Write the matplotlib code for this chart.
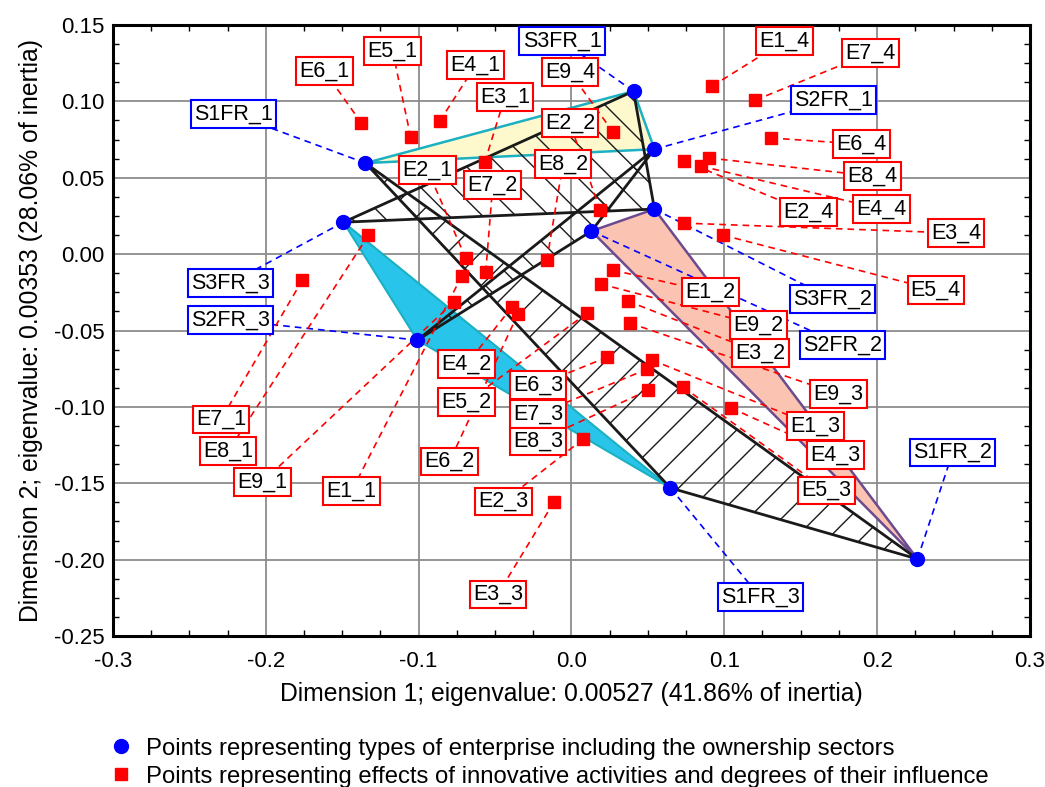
import matplotlib
matplotlib.use('Agg')
import matplotlib.pyplot as plt
from matplotlib.patches import Polygon
from matplotlib.lines import Line2D
from matplotlib.ticker import MultipleLocator

plt.rcParams['font.family'] = ['Liberation Sans', 'DejaVu Sans']
plt.rcParams['hatch.linewidth'] = 1.0

### Data: types of enterprise (blue points) ###
sectorNames = ['S1FR_1', 'S2FR_1', 'S3FR_1',
               'S1FR_2', 'S2FR_2', 'S3FR_2',
               'S1FR_3', 'S2FR_3', 'S3FR_3']
sectorX = [-0.1348, 0.0543, 0.0406, 0.2264, 0.0131, 0.0543, 0.0648, -0.1008, -0.1492]
sectorY = [0.0596, 0.0687, 0.1067, -0.1996, 0.0151, 0.0295, -0.1531, -0.0563, 0.0209]

### Data: effects of innovative activities (red points) ###
effectNames = ['E1_1', 'E2_1', 'E3_1', 'E4_1', 'E5_1', 'E6_1', 'E7_1', 'E8_1', 'E9_1',
               'E1_2', 'E2_2', 'E3_2', 'E4_2', 'E5_2', 'E6_2', 'E7_2', 'E8_2', 'E9_2',
               'E1_3', 'E2_3', 'E3_3', 'E4_3', 'E5_3', 'E6_3', 'E7_3', 'E8_3', 'E9_3',
               'E1_4', 'E2_4', 'E3_4', 'E4_4', 'E5_4', 'E6_4', 'E7_4', 'E8_4', 'E9_4']
effectX = [-0.0718, -0.0692, -0.0567, -0.0862, -0.1052, -0.1374, -0.1761, -0.1328, -0.0770,
           0.0272, 0.0187, 0.0370, -0.0390, 0.0102, -0.0351, -0.0561, -0.0161, 0.0193,
           0.0528, 0.0075, -0.0115, 0.1046, 0.0731, 0.0233, 0.0495, 0.0502, 0.0384,
           0.0921, 0.0738, 0.0738, 0.0849, 0.0993, 0.1308, 0.1203, 0.0902, 0.0272]
effectY = [-0.0144, -0.0026, 0.0602, 0.0871, 0.0766, 0.0858, -0.0170, 0.0124, -0.0314,
           -0.0105, 0.0288, -0.0308, -0.0347, -0.0386, -0.0393, -0.0118, -0.0039, -0.0196,
           -0.0694, -0.1212, -0.1624, -0.1008, -0.0871, -0.0675, -0.0753, -0.0891, -0.0452,
           0.1100, 0.0609, 0.0203, 0.0576, 0.0124, 0.0760, 0.1008, 0.0629, 0.0799]

### Layout: where the label boxes sit (data coordinates) ###
sectorLabelPos = {
    'S1FR_1': (-0.2213, 0.0917), 'S3FR_1': (-0.0062, 0.1395), 'S2FR_1': (0.1715, 0.1008),
    'S3FR_2': (0.1708, -0.0295), 'S2FR_2': (0.1774, -0.0596), 'S1FR_2': (0.2495, -0.1297),
    'S1FR_3': (0.1236, -0.2246), 'S3FR_3': (-0.2233, -0.0190), 'S2FR_3': (-0.2233, -0.0432),
}
effectLabelPos = {
    'E6_1': (-0.1616, 0.1198), 'E5_1': (-0.1170, 0.1329), 'E4_1': (-0.0626, 0.1238),
    'E3_1': (-0.0436, 0.1028), 'E2_1': (-0.0941, 0.0550), 'E7_1': (-0.2292, -0.1081),
    'E8_1': (-0.2246, -0.1290), 'E9_1': (-0.2023, -0.1493), 'E1_1': (-0.1439, -0.1552),
    'E9_4': (-0.0010, 0.1192), 'E2_2': (-0.0010, 0.0858), 'E8_2': (-0.0056, 0.0589),
    'E7_2': (-0.0515, 0.0452), 'E1_4': (0.1393, 0.1395), 'E7_4': (0.1957, 0.1316),
    'E6_4': (0.1898, 0.0720), 'E8_4': (0.1970, 0.0511), 'E4_4': (0.2030, 0.0295),
    'E2_4': (0.1551, 0.0275), 'E3_4': (0.2515, 0.0138), 'E5_4': (0.2384, -0.0236),
    'E1_2': (0.0908, -0.0249), 'E9_2': (0.1223, -0.0465), 'E3_2': (0.1236, -0.0648),
    'E9_3': (0.1748, -0.0917), 'E1_3': (0.1597, -0.1126), 'E4_3': (0.1728, -0.1316),
    'E5_3': (0.1669, -0.1546), 'E6_3': (-0.0220, -0.0858), 'E7_3': (-0.0220, -0.1048),
    'E8_3': (-0.0220, -0.1225), 'E4_2': (-0.0685, -0.0720), 'E5_2': (-0.0685, -0.0969),
    'E6_2': (-0.0797, -0.1356), 'E2_3': (-0.0443, -0.1618), 'E3_3': (-0.0482, -0.2227),
}

fig = plt.figure(figsize=(10.45, 7.87), dpi=100)
ax = fig.add_axes([0.1081, 0.1919, 0.8775, 0.7763])

def pts(names):
    return [(sectorX[sectorNames.index(n)], sectorY[sectorNames.index(n)]) for n in names]

### Triangles joining the points ###
# coloured ones first (by frequency), hatched ones on top (by sector)
ax.add_patch(Polygon(pts(['S3FR_3', 'S2FR_3', 'S1FR_3']), closed=True,
                     facecolor='#29c4e9', edgecolor='#1bb0c2', lw=1.5, zorder=2))
ax.add_patch(Polygon(pts(['S2FR_2', 'S3FR_2', 'S1FR_2']), closed=True,
                     facecolor='#fbc4b2', edgecolor='#6b4a8e', lw=1.8, zorder=2))
ax.add_patch(Polygon(pts(['S1FR_1', 'S3FR_1', 'S2FR_1']), closed=True,
                     facecolor='#fdf9cc', edgecolor='#1bb0c2', lw=1.8, zorder=2))
for grp, h in [(['S1FR_1', 'S1FR_2', 'S1FR_3'], '/'),
               (['S2FR_1', 'S2FR_2', 'S2FR_3'], '\\'),
               (['S3FR_1', 'S3FR_2', 'S3FR_3'], '\\')]:
    ax.add_patch(Polygon(pts(grp), closed=True, fill=False, hatch=h,
                         edgecolor='#1a1a1a', lw=2.0, zorder=3))

### Leader lines, points and label boxes ###
dash = (0, (4, 3))
for n, x, y in zip(sectorNames, sectorX, sectorY):
    lx, ly = sectorLabelPos[n]
    ax.plot([x, lx], [y, ly], color='blue', ls=dash, lw=1.2, zorder=4)
    ax.text(lx, ly, n, fontsize=15.5, ha='center', va='center', zorder=7,
            bbox=dict(boxstyle='square,pad=0.15', fc='white', ec='blue', lw=1.5))
for n, x, y in zip(effectNames, effectX, effectY):
    lx, ly = effectLabelPos[n]
    ax.plot([x, lx], [y, ly], color='red', ls=dash, lw=1.2, zorder=4)
    ax.text(lx, ly, n, fontsize=15.5, ha='center', va='center', zorder=7,
            bbox=dict(boxstyle='square,pad=0.15', fc='white', ec='red', lw=1.5))

ax.plot(effectX, effectY, ls='none', marker='s', ms=9, color='red', zorder=5)
ax.plot(sectorX, sectorY, ls='none', marker='o', ms=10, color='blue', zorder=6)

### Axes ###
ax.set_xlim(-0.3, 0.3)
ax.set_ylim(-0.25, 0.15)
ax.xaxis.set_major_locator(MultipleLocator(0.1))
ax.yaxis.set_major_locator(MultipleLocator(0.05))
ax.xaxis.set_minor_locator(MultipleLocator(0.025))
ax.yaxis.set_minor_locator(MultipleLocator(0.0125))
ax.set_xticklabels([f'{v:.1f}' for v in ax.get_xticks()])
ax.set_yticklabels([f'{v:.2f}' for v in ax.get_yticks()])
ax.tick_params(which='both', direction='in', top=True, right=True, labelsize=16)
ax.tick_params(which='major', length=0)
ax.tick_params(axis='x', which='major', pad=11)
ax.tick_params(axis='y', which='major', pad=6)
ax.tick_params(which='minor', length=4, width=1)
ax.grid(True, which='major', color='#8c8c8c', lw=1.3, zorder=0)
ax.set_axisbelow(True)
for s in ax.spines.values():
    s.set_linewidth(2.2)

ax.set_xlabel('Dimension 1; eigenvalue: 0.00527 (41.86% of inertia)', fontsize=17.8, labelpad=7)
ax.set_ylabel('Dimension 2; eigenvalue: 0.00353 (28.06% of inertia)', fontsize=17.8, labelpad=8)

### Legend below the plot ###
handles = [Line2D([], [], ls='none', marker='o', ms=10, color='blue'),
           Line2D([], [], ls='none', marker='s', ms=9, color='red')]
legendTexts = ['Points representing types of enterprise including the ownership sectors',
               'Points representing effects of innovative activities and degrees of their influence']
fig.legend(handles, legendTexts, loc='upper left', bbox_to_anchor=(0.095, 0.075),
           frameon=False, fontsize=17.2, handletextpad=0.55, labelspacing=0.25,
           borderaxespad=0, handlelength=1.0)

fig.savefig('out.png', dpi=100)
